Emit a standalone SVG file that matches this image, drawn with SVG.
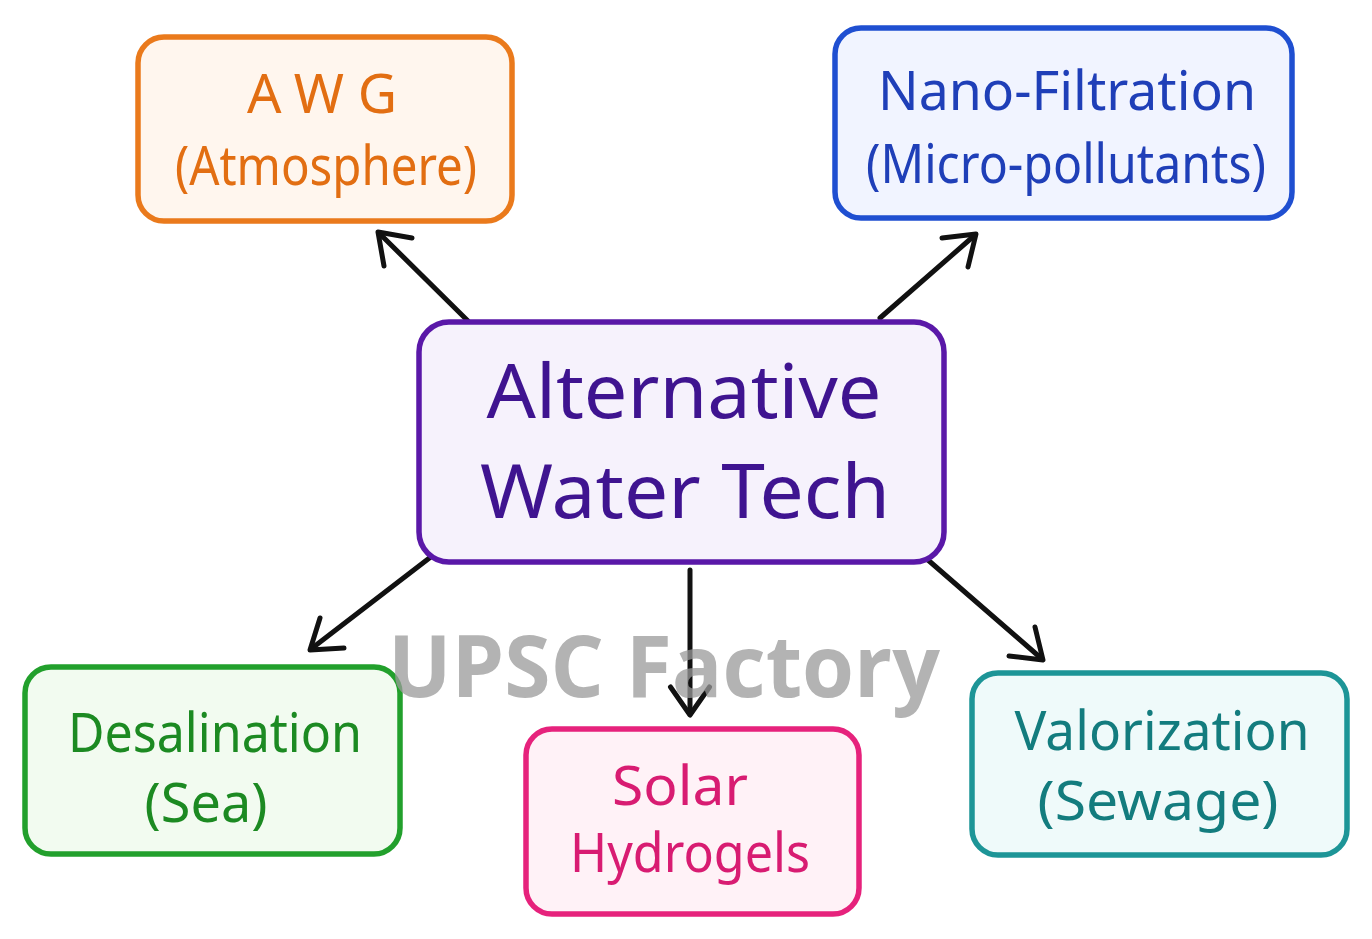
<svg xmlns="http://www.w3.org/2000/svg" width="1372" height="939" viewBox="0 0 1372 939">
<style>
.box{stroke-width:5.5}
.t{font-family:"Noto Sans","Open Sans",sans-serif;text-anchor:middle}
.s{font-size:54px}
.c{font-size:74px}
.con{stroke:#111;stroke-width:5;fill:none;stroke-linecap:round;stroke-linejoin:round}
.wm{font-family:"Open Sans","Noto Sans",sans-serif;font-weight:700;font-size:86px;fill:#9a9a9a;opacity:0.75}
</style>
<rect width="1372" height="939" fill="#ffffff"/>
<g id="connectors">
<line class="con" x1="468" y1="321" x2="379" y2="233"/>
<polyline class="con" points="384,266 378,232 412,238"/>
<line class="con" x1="880" y1="318" x2="975" y2="235"/>
<polyline class="con" points="942,238 976,234 968,267"/>
<line class="con" x1="432" y1="556" x2="311" y2="649"/>
<polyline class="con" points="344,648 310,650 320,618"/>
<line class="con" x1="690" y1="570" x2="690" y2="714"/>
<polyline class="con" points="709.5,687 690,715 670.5,687"/>
<line class="con" x1="928" y1="560" x2="1042" y2="659"/>
<polyline class="con" points="1035,627 1043,660 1009,656"/>
</g>
<g id="node-awg">
<rect class="box" x="138" y="37" width="374" height="184" rx="26" fill="#FFF6EE" stroke="#EA7A1C"/>
<text class="t s" x="322" y="113" fill="#E26E12" textLength="150" lengthAdjust="spacing">AWG</text>
<text class="t s" x="326" y="185" fill="#E26E12" textLength="302" lengthAdjust="spacingAndGlyphs">(Atmosphere)</text>
</g>
<g id="node-nano">
<rect class="box" x="835" y="28" width="457" height="190" rx="26" fill="#F1F4FF" stroke="#1F4FD1"/>
<text class="t s" x="1067" y="110" fill="#1F3FB8" textLength="378" lengthAdjust="spacingAndGlyphs">Nano-Filtration</text>
<text class="t s" x="1066" y="183" fill="#1F3FB8" textLength="400" lengthAdjust="spacingAndGlyphs">(Micro-pollutants)</text>
</g>
<g id="node-center">
<rect class="box" x="419" y="322" width="525" height="240" rx="30" fill="#F6F2FC" stroke="#5A18A8" stroke-width="6.5"/>
<text class="t c" x="684" y="418" fill="#3F1490" textLength="395" lengthAdjust="spacingAndGlyphs">Alternative</text>
<text class="t c" x="685" y="518" fill="#3F1490" textLength="410" lengthAdjust="spacingAndGlyphs">Water Tech</text>
</g>
<g id="node-desal">
<rect class="box" x="25" y="667" width="375" height="187" rx="26" fill="#F2FBF0" stroke="#22A02C"/>
<text class="t s" x="215" y="752" fill="#1C8A22" textLength="294" lengthAdjust="spacingAndGlyphs">Desalination</text>
<text class="t s" x="206" y="822" fill="#1C8A22" font-size="58">(Sea)</text>
</g>
<g id="node-solar">
<rect class="box" x="526" y="729" width="333" height="185" rx="26" fill="#FFF2F7" stroke="#E6227C"/>
<text class="t s" x="680" y="805" fill="#D81C72" textLength="136" lengthAdjust="spacingAndGlyphs">Solar</text>
<text class="t s" x="690" y="872" fill="#D81C72" textLength="240" lengthAdjust="spacingAndGlyphs">Hydrogels</text>
</g>
<g id="node-valor">
<rect class="box" x="972" y="673" width="375" height="182" rx="26" fill="#EFFAFA" stroke="#1D9597"/>
<text class="t s" x="1162" y="750" fill="#137C7E" textLength="295" lengthAdjust="spacingAndGlyphs">Valorization</text>
<text class="t s" x="1158" y="820" fill="#137C7E" textLength="241" lengthAdjust="spacingAndGlyphs">(Sewage)</text>
</g>
<text class="wm" x="388" y="697" textLength="552" lengthAdjust="spacingAndGlyphs">UPSC Factory</text>
</svg>
